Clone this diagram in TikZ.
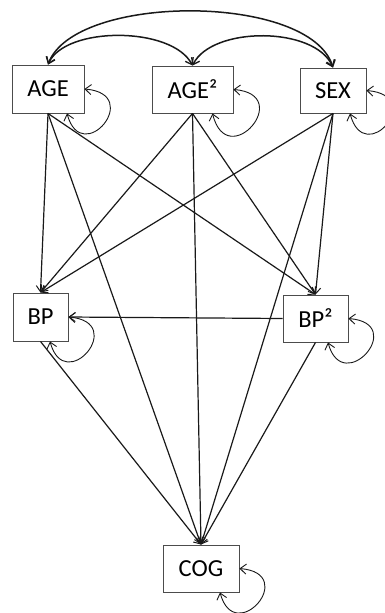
\documentclass[tikz,border=0pt]{standalone}
\usepackage{fontspec}
\setmainfont{Carlito}
\usetikzlibrary{arrows.meta}
\begin{document}
\begin{tikzpicture}[x=1pt,y=-1pt,
  var/.style={draw=black!70,line width=0.9pt,inner sep=0pt,
    font=\fontsize{24.5}{24.5}\selectfont},
  arr/.style={draw=black!90,line width=1.2pt,-{Straight Barb[length=6pt,width=9pt,line width=1pt]}},
  cov/.style={draw=black!90,line width=1.5pt,{Straight Barb[length=6pt,width=9pt,line width=1.3pt]}-{Straight Barb[length=6pt,width=9pt,line width=1.3pt]}},
  selfloop/.style={draw=black!90,line width=0.9pt,{Straight Barb[length=6pt,width=10pt,line width=0.9pt]}-{Straight Barb[length=6pt,width=10pt,line width=0.9pt]}}]
\useasboundingbox (0,0) rectangle (385,613);
\clip (0,0) rectangle (385,613);

% observed variables
\node[var,minimum width=72pt,minimum height=48pt] (age)  at (48,89)    {AGE};
\node[var,minimum width=81pt,minimum height=47pt] (age2) at (192.5,89.5) {AGE²};
\node[var,minimum width=66pt,minimum height=45pt] (sex)  at (333,90.5) {SEX};
\node[var,minimum width=55pt,minimum height=48pt] (bp)   at (40.5,317) {BP};
\node[var,minimum width=65pt,minimum height=47pt] (bp2)  at (315.5,318.5) {BP²};
\node[var,minimum width=76pt,minimum height=47pt] (cog)  at (201,568.5) {COG};

% covariances among the exogenous variables
\draw[cov] (age.north) .. controls (75,-7) and (310,-7) .. (sex.north);
\draw[cov] (age.north) .. controls (65,26) and (172,26) .. (age2.north);
\draw[cov] (age2.north) .. controls (212,26) and (315,26) .. (sex.north);

% regression paths
\foreach \s in {age,age2,sex}{
  \draw[arr] (\s.south) -- (bp.north);
  \draw[arr] (\s.south) -- (bp2.north);
  \draw[arr] (\s.south) -- (cog.north);
}
\draw[arr] (bp2.west) -- (bp.east);
\draw[arr] (bp.south) -- (cog.north);
\draw[arr] (bp2.south) -- (cog.north);

% residual variances
\draw[selfloop] ([xshift=19pt]age.south)  .. controls +(15,55) and +(60,5) .. (age.east);
\draw[selfloop] ([xshift=20pt]age2.south) .. controls +(15,60) and +(62,5) .. (age2.east);
\draw[selfloop] ([xshift=17pt]sex.south)  .. controls +(15,55) and +(60,5) .. (sex.east);
\draw[selfloop] ([xshift=9.5pt]bp.south)  .. controls +(15,55) and +(60,5) .. (bp.east);
\draw[selfloop] ([xshift=12.5pt]bp2.south) .. controls +(15,55) and +(60,5) .. (bp2.east);
\draw[selfloop] ([xshift=19pt]cog.south)  .. controls +(15,55) and +(60,5) .. (cog.east);
\end{tikzpicture}
\end{document}
